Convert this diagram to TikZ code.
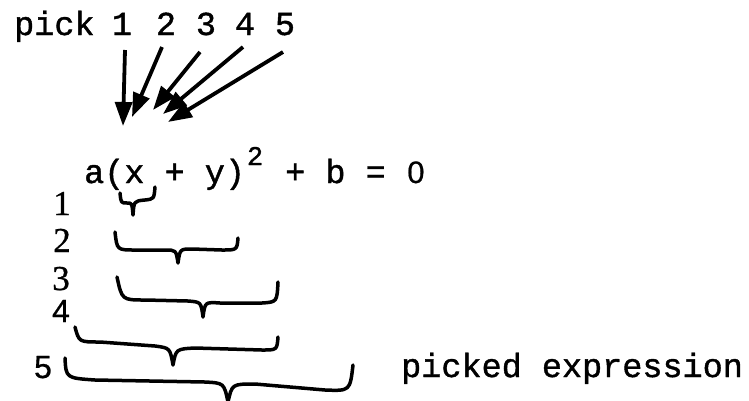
\documentclass[tikz,border=0pt]{standalone}
\usepackage{fontspec}
\setmainfont{Liberation Serif}
\setsansfont{Liberation Sans}
\setmonofont{Liberation Mono}
\newfontfamily\typew[FakeBold=1.2]{Liberation Mono}
\newfontfamily\numserif[FakeBold=0.8]{Liberation Serif}
\newfontfamily\numsans[FakeBold=0.6]{Liberation Sans}
\usetikzlibrary{arrows.meta}
\begin{document}
\begin{tikzpicture}[x=1pt,y=-1pt,
  tt/.style={inner sep=0pt,anchor=base,font=\typew\fontsize{33.5}{36}\selectfont},
  lab/.style={inner sep=0pt,anchor=base,font=\numserif\fontsize{35}{36}\selectfont},
  labs/.style={inner sep=0pt,anchor=base,font=\numsans\fontsize{32}{33}\selectfont},
  brace/.style={line width=3.5pt,line cap=round,line join=round},
  pickarrow/.style={line width=3.8pt,-{Triangle[length=24pt,width=17pt]}}]
\useasboundingbox (0,0) rectangle (749,400);
% top line
\node[tt,anchor=base west] (pick) at (14,35) {pick};
\node[tt] (d1) at (122,35) {1};
\node[tt] (d2) at (166,35) {2};
\node[tt] (d3) at (206,35) {3};
\node[tt] (d4) at (245,35) {4};
\node[tt] (d5) at (285,35) {5};
% arrows
\coordinate (s1) at (125,50);  \coordinate (e1) at (123,126);
\coordinate (s2) at (162,47);  \coordinate (e2) at (132,117);
\coordinate (s3) at (200,52);  \coordinate (e3) at (153,110);
\coordinate (s4) at (243,47);  \coordinate (e4) at (163,114);
\coordinate (s5) at (283,52);  \coordinate (e5) at (168,122);
\draw[pickarrow] (s1) -- (e1);
\draw[pickarrow] (s2) -- (e2);
\draw[pickarrow] (s3) -- (e3);
\draw[pickarrow] (s4) -- (e4);
\draw[pickarrow] (s5) -- (e5);
% equation
\node[tt,anchor=base west] (eq) at (84,183)
  {a(x + y)\makebox[0.6em]{\raisebox{18pt}{\fontsize{27}{28}\selectfont 2}} + b = \makebox[0.6em]{\numsans\fontsize{31}{31}\selectfont 0}};
% level numbers
\node[lab] (n1) at (62,215) {1};
\node[lab] (n2) at (62,252) {2};
\node[lab] (n3) at (61,290) {3};
\node[labs] (n4) at (61,322) {4};
\node[labs] (n5) at (43,378) {5};
% braces
\draw[brace] (120,193) .. controls (121,203) .. (127,203)
  .. controls (132,203) .. (133,215) .. controls (134,201) .. (145,200)
  .. controls (154,199) .. (155,187);
\draw[brace] (115,232) .. controls (117,250) .. (135,250) -- (165,250)
  .. controls (176,250) .. (178,263) .. controls (180,249) .. (192,249) -- (222,250)
  .. controls (237,250) .. (238,238);
\draw[brace] (117,277) .. controls (122,300) .. (145,300) -- (188,301)
  .. controls (201,302) .. (203,317) .. controls (205,302) .. (220,303) -- (262,303)
  .. controls (277,302) .. (278,282);
\draw[brace] (75,327) .. controls (79,342) .. (100,342) -- (155,346)
  .. controls (170,348) .. (173,365) .. controls (176,349) .. (195,348) -- (262,350)
  .. controls (277,350) .. (278,337);
\draw[brace] (65,358) .. controls (66,378) .. (95,380) -- (205,382)
  .. controls (224,383) .. (228,402) .. controls (232,384) .. (255,384) -- (325,390)
  .. controls (350,391) .. (353,365);
% caption
\node[tt,anchor=base west] (cap) at (401,377) {picked expression};
\end{tikzpicture}
\end{document}
